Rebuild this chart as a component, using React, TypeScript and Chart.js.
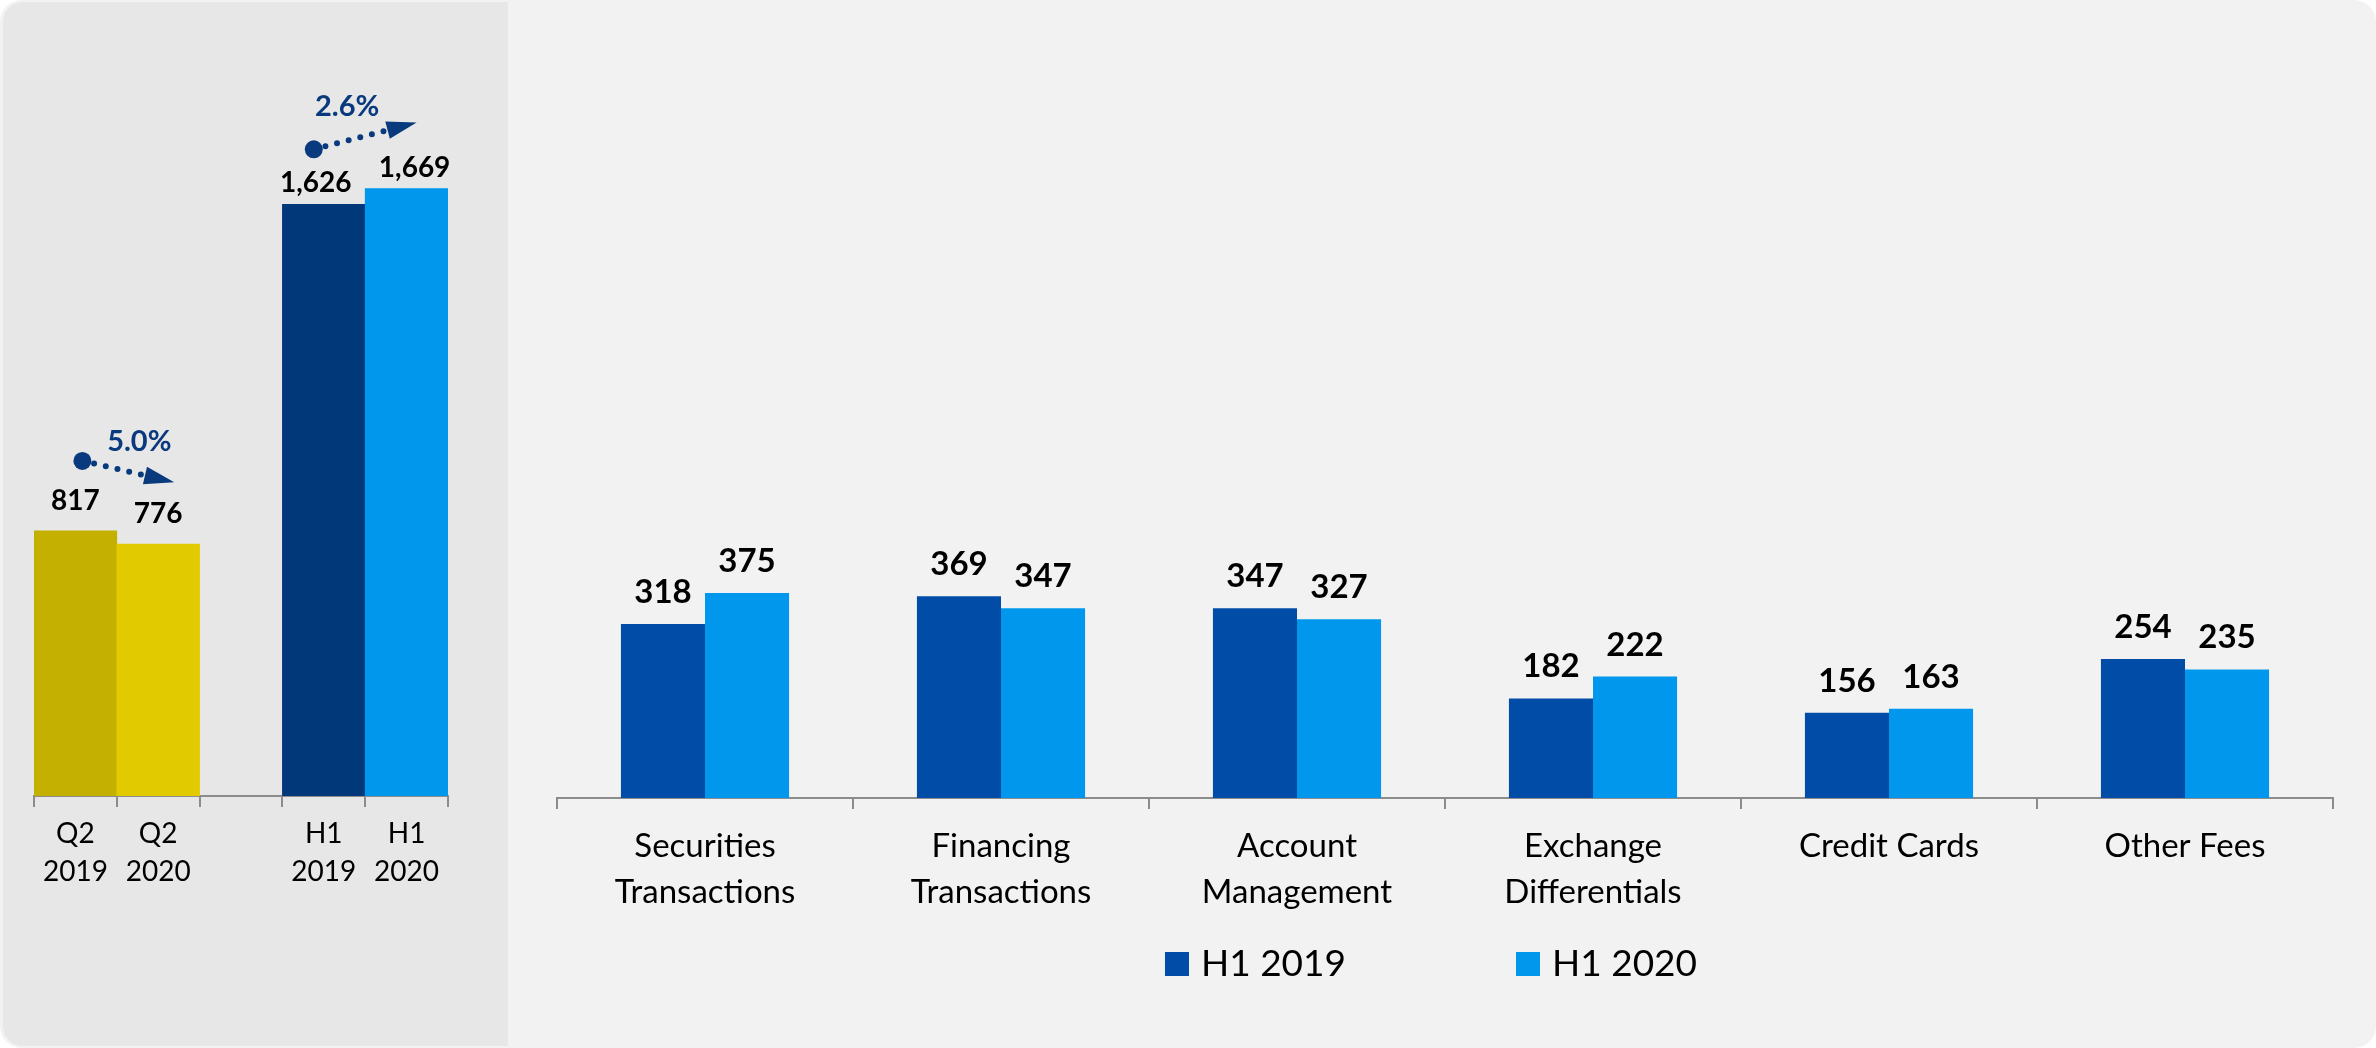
import React, { useEffect, useRef } from 'react';
import { Chart, registerables } from 'chart.js';

Chart.register(...registerables);

// ---------- data ----------
const quarterLabels = [['Q2', '2019'], ['Q2', '2020']];
const quarterValues = [817, 776];
const halfLabels = [['H1', '2019'], ['H1', '2020']];
const halfValues = [1626, 1669];
const changeLabels = ['5.0%', '2.6%'];

const categories = [
  ['Securities', 'Transactions'],
  ['Financing', 'Transactions'],
  ['Account', 'Management'],
  ['Exchange', 'Differentials'],
  'Credit Cards',
  'Other Fees',
];
const seriesNames = ['H1 2019', 'H1 2020'];
const h1_2019 = [318, 369, 347, 182, 156, 254];
const h1_2020 = [375, 347, 327, 222, 163, 235];

// ---------- styles ----------
const FONT = 'Lato';
const AXIS_GREY = '#8c8c8c';
const ARROW_BLUE = '#0a3a7e';

// shifts: per dataset, per index horizontal nudge of the value label
const valueLabelPlugin = (fontSize: number, gaps: number[], shifts?: Record<number, number>) => ({
  id: 'valueLabels',
  afterDatasetsDraw(chart: any) {
    const ctx = chart.ctx;
    ctx.save();
    ctx.font = `bold ${fontSize}px ${FONT}`;
    ctx.fillStyle = '#000';
    ctx.textAlign = 'center';
    ctx.textBaseline = 'alphabetic';
    chart.data.datasets.forEach((ds: any, di: number) => {
      const meta = chart.getDatasetMeta(di);
      meta.data.forEach((el: any, i: number) => {
        const v = ds.data[i];
        if (v == null) return;
        const dx = (shifts && shifts[i]) || 0;
        ctx.fillText(Number(v).toLocaleString('en-US'), el.x + dx, el.y - gaps[di]);
      });
    });
    ctx.restore();
  },
});

// arrows: from bar (dataset, index) to bar (dataset, index)
const arrowSpecs = [
  { ds: 0, a: 0, b: 1, start: [7, -70], tip: [16, -62], text: [11, -30], label: 0 },
  { ds: 1, a: 3, b: 4, start: [-10, -55], tip: [10, -66], text: [-18, -29], label: 1 },
];

const arrowPlugin = {
  id: 'changeArrows',
  afterDatasetsDraw(chart: any) {
    const ctx = chart.ctx;
    ctx.save();
    arrowSpecs.forEach((s) => {
      const meta = chart.getDatasetMeta(s.ds);
      const ea = meta.data[s.a];
      const eb = meta.data[s.b];
      const sx = ea.x + s.start[0];
      const sy = ea.y + s.start[1];
      const tx = eb.x + s.tip[0];
      const ty = eb.y + s.tip[1];
      const len = Math.hypot(tx - sx, ty - sy);
      const ux = (tx - sx) / len;
      const uy = (ty - sy) / len;
      const nx = -uy;
      const ny = ux;
      const headL = 30;
      const headW = 9;
      const bx = tx - headL * ux;
      const by = ty - headL * uy;
      ctx.fillStyle = ARROW_BLUE;
      ctx.strokeStyle = ARROW_BLUE;
      ctx.beginPath();
      ctx.arc(sx, sy, 9, 0, Math.PI * 2);
      ctx.fill();
      ctx.beginPath();
      ctx.lineWidth = 6;
      ctx.lineCap = 'round';
      ctx.setLineDash([0, 12]);
      ctx.moveTo(sx + 12 * ux, sy + 12 * uy);
      ctx.lineTo(bx - 2 * ux, by - 2 * uy);
      ctx.stroke();
      ctx.setLineDash([]);
      ctx.beginPath();
      ctx.moveTo(tx, ty);
      ctx.lineTo(bx + headW * nx, by + headW * ny);
      ctx.lineTo(bx - headW * nx, by - headW * ny);
      ctx.closePath();
      ctx.fill();
      ctx.font = `bold 29px ${FONT}`;
      ctx.textAlign = 'center';
      ctx.textBaseline = 'middle';
      ctx.fillText(changeLabels[s.label], (sx + tx) / 2 + s.text[0], (sy + ty) / 2 + s.text[1]);
    });
    ctx.restore();
  },
};

const legendPlugin = {
  id: 'customLegend',
  afterDraw(chart: any) {
    const ctx = chart.ctx;
    const area = chart.chartArea;
    ctx.save();
    ctx.font = `37px ${FONT}`;
    const box = 24;
    const gap = 12;
    const itemGap = 170;
    const items = chart.data.datasets.map((d: any) => ({
      label: d.label,
      color: d.backgroundColor,
      w: ctx.measureText(d.label).width,
    }));
    const total =
      items.reduce((a: number, it: any) => a + box + gap + it.w, 0) + itemGap * (items.length - 1);
    let x = (area.left + area.right) / 2 - 14 - total / 2;
    const top = 952;
    ctx.textAlign = 'left';
    ctx.textBaseline = 'alphabetic';
    items.forEach((it: any) => {
      ctx.fillStyle = it.color;
      ctx.fillRect(x, top, box, box);
      ctx.fillStyle = '#000';
      ctx.fillText(it.label, x + box + gap, top + box);
      x += box + gap + it.w + itemGap;
    });
    ctx.restore();
  },
};

const xAxis = (fontSize: number, lineHeight: number, padding: number, height: number) => ({
  grid: {
    display: true,
    drawOnChartArea: false,
    drawTicks: true,
    tickLength: 11,
    color: AXIS_GREY,
    lineWidth: 2,
    offset: true,
  },
  border: { display: true, color: AXIS_GREY, width: 2 },
  ticks: {
    font: { family: FONT, size: fontSize, lineHeight },
    color: '#000',
    padding,
    maxRotation: 0,
    minRotation: 0,
    autoSkip: false,
  },
  afterFit: (s: any) => {
    s.height = height;
  },
});

export default function App() {
  const leftRef = useRef<HTMLCanvasElement>(null);
  const rightRef = useRef<HTMLCanvasElement>(null);

  useEffect(() => {
    const n = quarterValues.length;
    const leftLabels = [...quarterLabels, '', ...halfLabels];
    const left = new Chart(leftRef.current!, {
      type: 'bar',
      data: {
        labels: leftLabels as any,
        datasets: [
          {
            label: 'Q2',
            data: [...quarterValues, null, ...halfValues.map(() => null)] as any,
            backgroundColor: ['#c4b000', '#e1cb00'],
            yAxisID: 'yQ',
            grouped: false,
            barPercentage: 1,
            categoryPercentage: 1,
          } as any,
          {
            label: 'H1',
            data: [...quarterValues.map(() => null), null, ...halfValues] as any,
            backgroundColor: [...Array(n + 1).fill('#000'), '#00387a', '#0097ec'],
            yAxisID: 'yH',
            grouped: false,
            barPercentage: 1,
            categoryPercentage: 1,
          } as any,
        ],
      },
      options: {
        responsive: false,
        animation: false,
        layout: { padding: { left: 34, right: 60, top: 98, bottom: 102 } },
        plugins: { legend: { display: false }, tooltip: { enabled: false } },
        scales: {
          x: xAxis(28, 1.36, 8, 150) as any,
          yQ: { display: false, min: 0, max: 2151 },
          yH: { display: false, min: 0, max: 1918 },
        },
      },
      plugins: [valueLabelPlugin(28, [21, 12], { 3: -8, 4: 8 }), arrowPlugin],
    });

    const right = new Chart(rightRef.current!, {
      type: 'bar',
      data: {
        labels: categories as any,
        datasets: [
          {
            label: seriesNames[0],
            data: h1_2019,
            backgroundColor: '#004ca6',
            barPercentage: 1,
            categoryPercentage: 0.568,
          },
          {
            label: seriesNames[1],
            data: h1_2020,
            backgroundColor: '#0097ec',
            barPercentage: 1,
            categoryPercentage: 0.568,
          },
        ],
      },
      options: {
        responsive: false,
        animation: false,
        layout: { padding: { left: 49, right: 43, top: 98, bottom: 100 } },
        plugins: { legend: { display: false }, tooltip: { enabled: false } },
        scales: {
          x: xAxis(33, 1.4, 14, 150) as any,
          y: { display: false, min: 0, max: 1280 },
        },
      },
      plugins: [valueLabelPlugin(33, [21, 21]), legendPlugin],
    });

    return () => {
      left.destroy();
      right.destroy();
    };
  }, []);

  return (
    <div
      style={{
        position: 'fixed',
        left: 0,
        top: 0,
        width: 2376,
        height: 1048,
        background: '#ffffff',
      }}
    >
      <div
        style={{
          position: 'absolute',
          left: 0,
          top: 0,
          width: 2376,
          height: 1048,
          background: '#f2f2f2',
          borderRadius: 22,
          overflow: 'hidden',
        }}
      >
        <div
          style={{
            position: 'absolute',
            left: 3,
            top: 2,
            width: 505,
            height: 1044,
            background: '#e7e7e7',
            borderTopLeftRadius: 20,
            borderBottomLeftRadius: 20,
          }}
        />
        <canvas
          ref={leftRef}
          width={508}
          height={1048}
          style={{ position: 'absolute', left: 0, top: 0, width: 508, height: 1048 }}
        />
        <canvas
          ref={rightRef}
          width={1868}
          height={1048}
          style={{ position: 'absolute', left: 508, top: 0, width: 1868, height: 1048 }}
        />
      </div>
    </div>
  );
}
